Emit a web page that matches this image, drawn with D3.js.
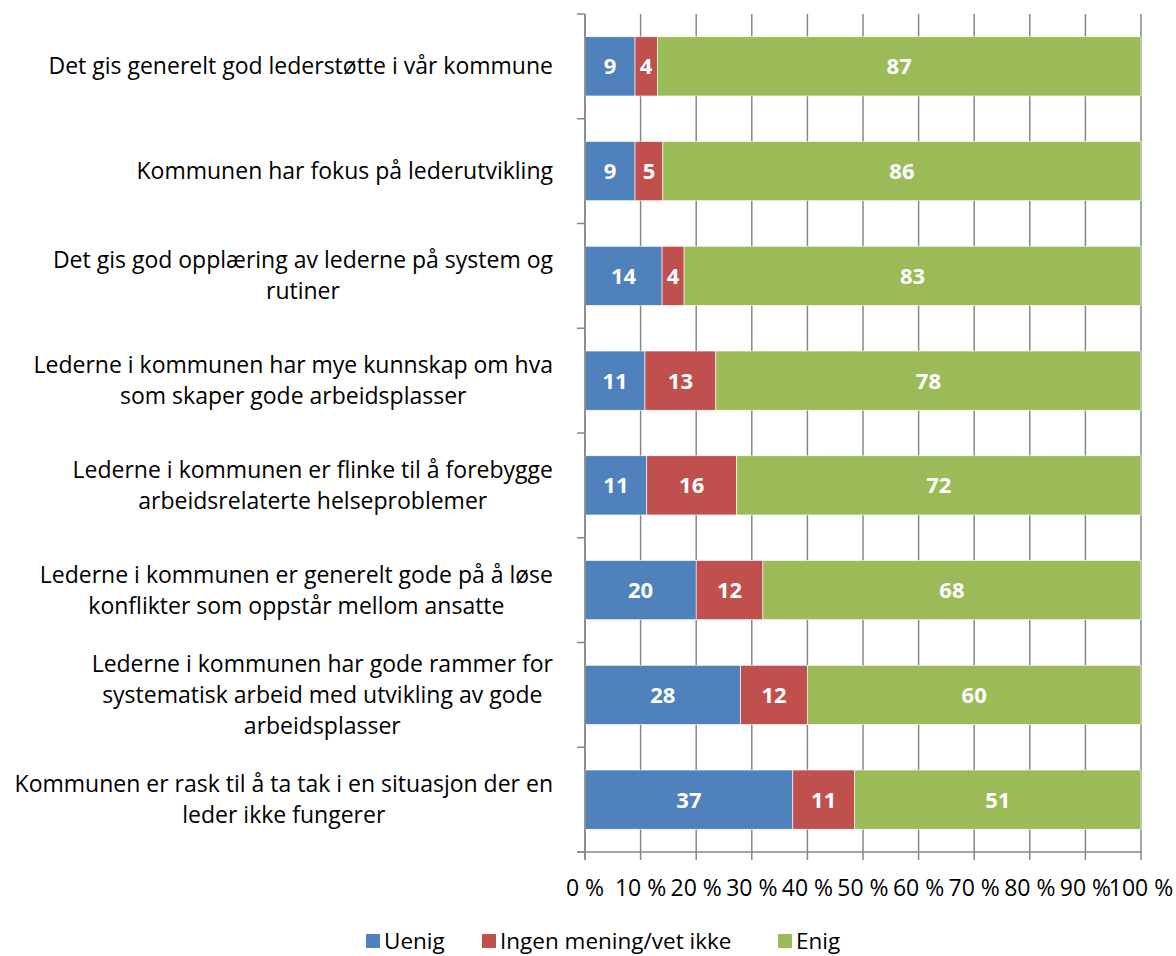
<!DOCTYPE html>
<html>
<head>
<meta charset="utf-8">
<script src="https://cdn.jsdelivr.net/npm/d3@7"></script>
<style>
body{margin:0;background:#fff;}
svg text{font-family:"Open Sans","Noto Sans",sans-serif;}
</style>
</head>
<body>
<div id="chart"></div>
<script>
var categories=[
  ["Det gis generelt god lederstøtte i vår kommune"],
  ["Kommunen har fokus på lederutvikling"],
  ["Det gis god opplæring av lederne på system og","rutiner"],
  ["Lederne i kommunen har mye kunnskap om hva","som skaper gode arbeidsplasser"],
  ["Lederne i kommunen er flinke til å forebygge","arbeidsrelaterte helseproblemer"],
  ["Lederne i kommunen er generelt gode på å løse","konflikter som oppstår mellom ansatte"],
  ["Lederne i kommunen har gode rammer for","systematisk arbeid med utvikling av gode","arbeidsplasser"],
  ["Kommunen er rask til å ta tak i en situasjon der en","leder ikke fungerer"]
];
var seriesNames=["Uenig","Ingen mening/vet ikke","Enig"];
var uenig=[9,9,14,11,11,20,28,37];
var ingen=[4,5,4,13,16,12,12,11];
var enig=[87,86,83,78,72,68,60,51];
var colors=["#4F81BD","#C0504D","#9BBB59"];
var tickLabels=["0 %","10 %","20 %","30 %","40 %","50 %","60 %","70 %","80 %","90 %","100 %"];

var width=1176,height=956;
var pLeft=585,pRight=1141,pTop=14,pBottom=852;

var svg=d3.select("#chart").append("svg").attr("width",width).attr("height",height);

var x=d3.scaleLinear().domain([0,1]).range([pLeft,pRight]);
var y=d3.scaleBand().domain(d3.range(categories.length)).range([pTop,pBottom]).paddingInner(0.435).paddingOuter(0.2175);

// gridlines
svg.append("g").selectAll("line").data(d3.range(0,11)).enter().append("line")
  .attr("x1",function(d){return x(d/10);}).attr("x2",function(d){return x(d/10);})
  .attr("y1",pTop).attr("y2",pBottom+8)
  .attr("stroke","#878787").attr("stroke-width",1.5);

// stack (normalised to 100 %)
var rows=categories.map(function(c,i){
  var v=[uenig[i],ingen[i],enig[i]];
  var s=d3.sum(v),acc=0;
  return v.map(function(val,k){var o={i:i,k:k,val:val,x0:acc/s,x1:(acc+val)/s};acc+=val;return o;});
});
var segs=[].concat.apply([],rows);

svg.append("g").selectAll("rect").data(segs).enter().append("rect")
  .attr("x",function(d){return x(d.x0);})
  .attr("width",function(d){return x(d.x1)-x(d.x0);})
  .attr("y",function(d){return y(d.i);})
  .attr("height",y.bandwidth())
  .attr("fill",function(d){return colors[d.k];})
  .attr("stroke","#fff").attr("stroke-width",0.6);

svg.append("g").selectAll("text").data(segs).enter().append("text")
  .attr("x",function(d){return (x(d.x0)+x(d.x1))/2;})
  .attr("y",function(d){return y(d.i)+y.bandwidth()/2;})
  .attr("dy","0.36em").attr("text-anchor","middle")
  .attr("fill","#fff").attr("font-weight","bold").attr("font-size",22)
  .text(function(d){return d.val;});

// axes lines
svg.append("line").attr("x1",pLeft).attr("x2",pLeft).attr("y1",pTop).attr("y2",pBottom+8)
  .attr("stroke","#878787").attr("stroke-width",1.5);
svg.append("line").attr("x1",pLeft-8).attr("x2",pRight).attr("y1",pBottom).attr("y2",pBottom)
  .attr("stroke","#878787").attr("stroke-width",1.5);
var step=(pBottom-pTop)/categories.length;
svg.append("g").selectAll("line").data(d3.range(categories.length+1)).enter().append("line")
  .attr("x1",pLeft-8).attr("x2",pLeft)
  .attr("y1",function(d){return pTop+d*step;}).attr("y2",function(d){return pTop+d*step;})
  .attr("stroke","#878787").attr("stroke-width",1.5);

// x tick labels
svg.append("g").selectAll("text").data(tickLabels).enter().append("text")
  .attr("x",function(d,i){return x(i/10);}).attr("y",896)
  .attr("text-anchor","middle").attr("font-size",23).attr("fill","#000")
  .text(function(d){return d;});

// category labels
var lineH=31;
categories.forEach(function(lines,i){
  var g=svg.append("g");
  var cy=y(i)+y.bandwidth()/2;
  var t=g.selectAll("text").data(lines).enter().append("text")
    .attr("font-size",23).attr("fill","#000").attr("text-anchor","middle")
    .attr("y",function(d,j){return cy+(j-(lines.length-1)/2)*lineH;})
    .attr("dy","0.35em")
    .text(function(d){return d;});
  var maxW=0;
  t.each(function(){maxW=Math.max(maxW,this.getComputedTextLength());});
  t.attr("x",553-maxW/2);
});

// legend
var legX=[366,482,778];
var leg=svg.append("g").selectAll("g").data(seriesNames).enter().append("g")
  .attr("transform",function(d,i){return "translate("+legX[i]+",934)";});
leg.append("rect").attr("width",14).attr("height",14).attr("fill",function(d,i){return colors[i];});
leg.append("text").attr("x",18).attr("y",7).attr("dy","0.34em").attr("font-size",22.5)
  .text(function(d){return d;});
</script>
</body>
</html>
